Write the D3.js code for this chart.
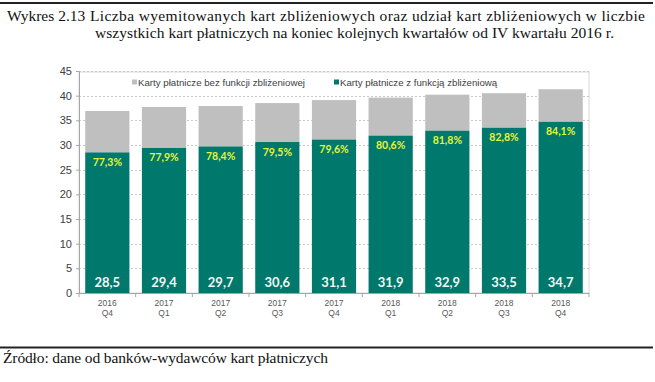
<!DOCTYPE html>
<html><head><meta charset="utf-8">
<script src="https://cdn.jsdelivr.net/npm/d3@7"></script>
<style>body{margin:0;background:#fff}svg{display:block}</style>
</head><body>
<svg id="c" width="655" height="382"></svg>
<script>
const categories = [["2016","Q4"],["2017","Q1"],["2017","Q2"],["2017","Q3"],["2017","Q4"],["2018","Q1"],["2018","Q2"],["2018","Q3"],["2018","Q4"]];
const contactless = [28.5, 29.4, 29.7, 30.6, 31.1, 31.9, 32.9, 33.5, 34.7];
const nonContactless = [8.4, 8.3, 8.2, 7.9, 8.0, 7.7, 7.3, 7.0, 6.6];
const shareLabels = ["77,3%","77,9%","78,4%","79,5%","79,6%","80,6%","81,8%","82,8%","84,1%"];
const valueLabels = ["28,5","29,4","29,7","30,6","31,1","31,9","32,9","33,5","34,7"];
const yTicks = [0,5,10,15,20,25,30,35,40,45];
const seriesNames = ["Karty płatnicze bez funkcji zbliżeniowej","Karty płatnicze z funkcją zbliżeniową"];
const titleLines = ["Wykres 2.13","Liczba wyemitowanych kart zbliżeniowych oraz udział kart zbliżeniowych w liczbie","wszystkich kart płatniczych na koniec kolejnych kwartałów od IV kwartału 2016 r."];
const sourceText = "Źródło: dane od banków-wydawców kart płatniczych";

const GREEN = "#00786c", GRAY = "#bfbfbf", YELLOW = "#e4f53a";
const svg = d3.select("#c");
const L = 79, R = 589, T = 72, B = 293;
const keys = categories.map((d,i)=>i);
const x = d3.scaleBand().domain(keys).range([L,R]).paddingInner(0.22).paddingOuter(0.11);
const y = d3.scaleLinear().domain([0,45]).range([B, 71]);

const serif = "'Liberation Serif','Times New Roman',serif";
const sans = "'Liberation Sans',Arial,sans-serif";

// rules
svg.append("line").attr("x1",0).attr("x2",653).attr("y1",3).attr("y2",3).attr("stroke","#222").attr("stroke-width",2);
svg.append("line").attr("x1",0).attr("x2",653).attr("y1",347.5).attr("y2",347.5).attr("stroke","#222").attr("stroke-width",2);

// title
svg.append("text").attr("x",7).attr("y",21).attr("font-family",serif).attr("font-size",15.5).attr("fill","#111").text(titleLines[0]);
svg.append("text").attr("x",90).attr("y",21).attr("font-family",serif).attr("font-size",15.5).attr("fill","#111")
  .attr("textLength",555).attr("lengthAdjust","spacing").text(titleLines[1]);
svg.append("text").attr("x",95).attr("y",38).attr("font-family",serif).attr("font-size",15.5).attr("fill","#111")
  .attr("textLength",519).attr("lengthAdjust","spacing").text(titleLines[2]);
svg.append("text").attr("x",3).attr("y",363).attr("font-family",serif).attr("font-size",15.5).attr("fill","#111")
  .attr("textLength",325).attr("lengthAdjust","spacing").text(sourceText);

// plot border
svg.append("rect").attr("x",L).attr("y",T).attr("width",R-L).attr("height",B-T).attr("fill","none").attr("stroke","#d9d9d9");

// gridlines
svg.append("g").selectAll("line").data(yTicks.filter(t=>t>0)).join("line")
  .attr("x1",L).attr("x2",R).attr("y1",d=>Math.round(y(d))+0.5).attr("y2",d=>Math.round(y(d))+0.5)
  .attr("stroke","#c8c8c8").attr("stroke-dasharray","2,2");

// y axis
const ya = svg.append("g").attr("transform",`translate(${L},0)`).call(d3.axisLeft(y).tickValues(yTicks).tickSize(3).tickPadding(4));
ya.select(".domain").attr("stroke","#a6a6a6");
ya.selectAll(".tick line").attr("stroke","#a6a6a6");
ya.selectAll(".tick text").attr("font-family",sans).attr("font-size",11).attr("fill","#404040");

// bars
const g = svg.append("g");
g.selectAll("rect.gray").data(keys).join("rect").attr("class","gray")
  .attr("x",i=>x(i)).attr("width",x.bandwidth())
  .attr("y",i=>y(contactless[i]+nonContactless[i])).attr("height",i=>y(contactless[i])-y(contactless[i]+nonContactless[i]))
  .attr("fill",GRAY);
g.selectAll("rect.green").data(keys).join("rect").attr("class","green")
  .attr("x",i=>x(i)).attr("width",x.bandwidth())
  .attr("y",i=>y(contactless[i])).attr("height",i=>y(0)-y(contactless[i]))
  .attr("fill",GREEN);

// x axis
svg.append("line").attr("x1",L).attr("x2",R).attr("y1",B+0.5).attr("y2",B+0.5).attr("stroke","#a6a6a6");
svg.append("g").selectAll("line").data(d3.range(10)).join("line")
  .attr("x1",i=>L + i*(R-L)/9).attr("x2",i=>L + i*(R-L)/9).attr("y1",B).attr("y2",B+4).attr("stroke","#a6a6a6");
const xl = svg.append("g").selectAll("text").data(keys).join("text")
  .attr("x",i=>x(i)+x.bandwidth()/2).attr("text-anchor","middle")
  .attr("font-family",sans).attr("font-size",8.5).attr("fill","#595959");
xl.append("tspan").attr("x",i=>x(i)+x.bandwidth()/2).attr("y",306).text(i=>categories[i][0]);
xl.append("tspan").attr("x",i=>x(i)+x.bandwidth()/2).attr("y",316).text(i=>categories[i][1]);

// labels
const lato = "Lato,'Open Sans',sans-serif";
svg.append("g").selectAll("text").data(keys).join("text")
  .attr("x",i=>x(i)+x.bandwidth()/2).attr("y",i=>y(contactless[i])+13.5)
  .attr("text-anchor","middle").attr("font-family",lato).attr("font-weight","bold").attr("font-size",10.5)
  .attr("fill",YELLOW).text(i=>shareLabels[i]);
svg.append("g").selectAll("text").data(keys).join("text")
  .attr("x",i=>x(i)+x.bandwidth()/2).attr("y",287)
  .attr("text-anchor","middle").attr("font-family",lato).attr("font-weight","bold").attr("font-size",13)
  .attr("fill","#f2f8f4").text(i=>valueLabels[i]);

// legend
const leg = [{n:seriesNames[0],c:GRAY,x:132},{n:seriesNames[1],c:GREEN,x:334}];
const lg = svg.append("g").selectAll("g").data(leg).join("g");
lg.append("rect").attr("x",d=>d.x).attr("y",79.5).attr("width",5).attr("height",5).attr("fill",d=>d.c);
lg.append("text").attr("x",d=>d.x+6).attr("y",85.5).attr("font-family",sans).attr("font-size",9.7).attr("fill","#404040").text(d=>d.n);
</script>
</body></html>
